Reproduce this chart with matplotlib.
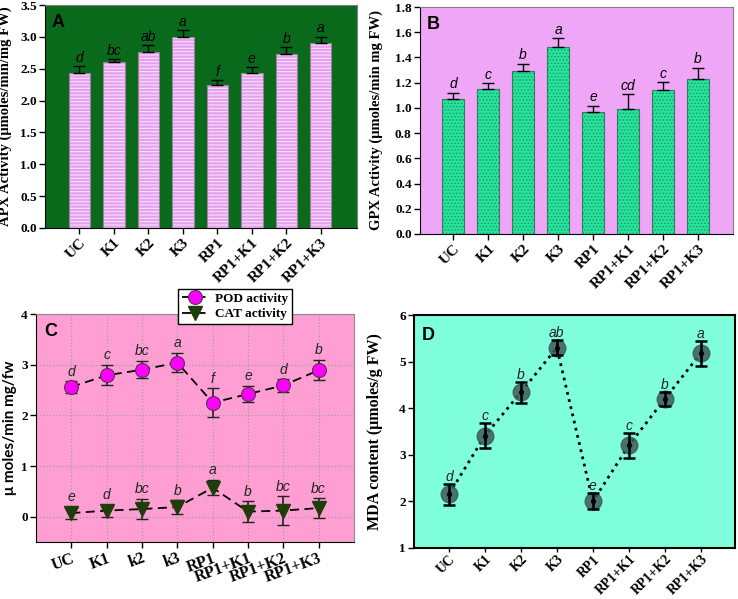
import matplotlib
matplotlib.use("Agg")
import matplotlib.pyplot as plt
import numpy as np

cats = ['UC', 'K1', 'K2', 'K3', 'RP1', 'RP1+K1', 'RP1+K2', 'RP1+K3']
cats_c = ['UC', 'K1', 'k2', 'k3', 'RP1', 'RP1+K1', 'RP1+K2', 'RP1+K3']

apx = [2.44, 2.60, 2.77, 2.99, 2.24, 2.43, 2.73, 2.91]
apx_err = [0.10, 0.05, 0.10, 0.11, 0.08, 0.09, 0.11, 0.09]
apx_letters = ['d', 'bc', 'ab', 'a', 'f', 'e', 'b', 'a']

gpx = [1.067, 1.152, 1.29, 1.48, 0.968, 0.992, 1.144, 1.232]
gpx_err = [0.055, 0.045, 0.06, 0.072, 0.05, 0.115, 0.06, 0.088]
gpx_letters = ['d', 'c', 'b', 'a', 'e', 'cd', 'c', 'b']

pod = [2.56, 2.79, 2.90, 3.04, 2.25, 2.42, 2.59, 2.89]
pod_err = [0.11, 0.20, 0.17, 0.19, 0.28, 0.16, 0.12, 0.20]
pod_letters = ['d', 'c', 'bc', 'a', 'f', 'e', 'd', 'b']

cat = [0.07, 0.12, 0.15, 0.19, 0.57, 0.10, 0.12, 0.17]
cat_err = [0.12, 0.12, 0.20, 0.13, 0.15, 0.20, 0.28, 0.19]
cat_letters = ['e', 'd', 'bc', 'b', 'a', 'b', 'bc', 'bc']

mda = [2.15, 3.41, 4.34, 5.30, 2.00, 3.20, 4.20, 5.18]
mda_err = [0.22, 0.27, 0.22, 0.16, 0.17, 0.27, 0.15, 0.27]
mda_letters = ['d', 'c', 'b', 'ab', 'e', 'c', 'b', 'a']

SERIF = 'Liberation Serif'
SANS = 'Liberation Sans'
plt.rcParams['hatch.linewidth'] = 0.7

fig = plt.figure(figsize=(7.38, 5.99), dpi=100)
W, H = 738, 599


def add_ax(l, t, r, b):
    return fig.add_axes([l / W, 1 - b / H, (r - l) / W, (b - t) / H])


def style_ticks(ax, ylabel, labx, rot=45, xt=cats, ylsize=10.5, xtsize=11, ylfam=SERIF, xpad=2, xlen=4):
    ax.set_xticks(range(len(xt)))
    ax.set_xticklabels(xt, rotation=rot, ha='right', rotation_mode='anchor',
                       fontfamily=SERIF, fontweight='bold', fontsize=xtsize)
    for lab in ax.get_yticklabels():
        lab.set_fontfamily(SERIF)
        lab.set_fontweight('bold')
        lab.set_fontsize(9.5)
    ax.tick_params(direction='out', length=4, width=1, pad=2)
    ax.tick_params(axis='x', pad=xpad, length=xlen)
    ax.set_ylabel(ylabel, fontfamily=ylfam, fontweight='bold', fontsize=ylsize)
    ax.yaxis.set_label_coords(labx, 0.5)


x = np.arange(len(cats))

# Panel A
axA = add_ax(45, 5, 357, 228)
axA.set_facecolor('#086a1a')
axA.bar(x, apx, width=0.62, color='#e6a2ef', edgecolor='#fbe8ff', hatch='-----', linewidth=0, zorder=2)
axA.bar(x, apx, width=0.62, color='none', edgecolor='#9a7fa0', linewidth=0.8, zorder=3)
axA.errorbar(x, apx, yerr=[np.zeros(8), apx_err], fmt='none', ecolor='black', capsize=4, elinewidth=1, zorder=4)
for xi, v, e, s in zip(x, apx, apx_err, apx_letters):
    axA.annotate(s, (xi, v + e), xytext=(0, 1), textcoords='offset points', ha='center', va='bottom',
                 fontsize=10, style='italic', fontfamily=SANS, color='black')
axA.set_xlim(-1, 8.05)
axA.set_ylim(0, 3.5)
axA.set_yticks(np.arange(0, 3.51, 0.5))
axA.set_yticklabels([f'{v:.1f}' for v in np.arange(0, 3.51, 0.5)])
style_ticks(axA, 'APX Activity (μmoles/min/mg FW)', -0.105)
axA.text(0.02, 0.96, 'A', transform=axA.transAxes, fontsize=13, fontweight='bold', fontfamily=SANS, va='top')
for sp in axA.spines.values():
    sp.set_color('#7f7f7f')
axA.spines['left'].set_color('black')
axA.spines['bottom'].set_color('black')

# Panel B
axB = add_ax(420, 7, 733, 234)
axB.set_facecolor('#f0a6f7')
axB.bar(x, gpx, width=0.62, color='#27e39c', edgecolor='#1a9e6c', hatch='.....', linewidth=0, zorder=2)
axB.bar(x, gpx, width=0.62, color='none', edgecolor='#2f7f5f', linewidth=0.8, zorder=3)
axB.errorbar(x, gpx, yerr=[np.zeros(8), gpx_err], fmt='none', ecolor='black', capsize=4, elinewidth=1, zorder=4)
for xi, v, e, s in zip(x, gpx, gpx_err, gpx_letters):
    axB.annotate(s, (xi, v + e), xytext=(0, 1), textcoords='offset points', ha='center', va='bottom',
                 fontsize=10, style='italic', fontfamily=SANS, color='black')
axB.set_xlim(-0.95, 8.0)
axB.set_ylim(0, 1.8)
axB.set_yticks(np.arange(0, 1.81, 0.2))
axB.set_yticklabels([f'{v:.1f}' for v in np.arange(0, 1.81, 0.2)])
style_ticks(axB, 'GPX Activity (μmoles/min mg FW)', -0.118)
axB.text(0.02, 0.96, 'B', transform=axB.transAxes, fontsize=13, fontweight='bold', fontfamily=SANS, va='top')
for sp in axB.spines.values():
    sp.set_color('#7f7f7f')
axB.spines['left'].set_color('black')
axB.spines['bottom'].set_color('black')

# Panel C
axC = add_ax(36, 314, 354, 542)
axC.set_facecolor('#ff9ed3')
axC.grid(True, color='#a0a0a0', linestyle=':', linewidth=0.9, zorder=0)
axC.set_axisbelow(True)
axC.errorbar(x, pod, yerr=pod_err, fmt='none', ecolor='#222222', capsize=4, elinewidth=1.2, zorder=3)
axC.plot(x, pod, '--', color='black', lw=1.3, marker='o', ms=10, mfc='#ff00ff', mec='#553355', mew=0.8,
         dashes=(5, 3), zorder=4, label='POD activity')
axC.errorbar(x, cat, yerr=cat_err, fmt='none', ecolor='#222222', capsize=4, elinewidth=1.2, zorder=3)
axC.plot(x, cat, '--', color='black', lw=1.3, marker='v', ms=10, mfc='#1e3d08', mec='#1e3d08',
         dashes=(5, 3), zorder=4, label='CAT activity')
for xi, v, e, s in zip(x, pod, pod_err, pod_letters):
    axC.annotate(s, (xi, v + e), xytext=(0, 2), textcoords='offset points', ha='center', va='bottom',
                 fontsize=10, style='italic', fontfamily=SANS, color='#222222')
for xi, v, e, s in zip(x, cat, cat_err, cat_letters):
    axC.annotate(s, (xi, v + e), xytext=(0, 2), textcoords='offset points', ha='center', va='bottom',
                 fontsize=10, style='italic', fontfamily=SANS, color='#222222')
axC.set_xlim(-1, 8)
axC.set_ylim(-0.5, 4)
axC.set_yticks([0, 1, 2, 3, 4])
axC.set_yticklabels(['0', '1', '2', '3', '4'])
style_ticks(axC, 'μ moles/min mg/fw', -0.06, rot=20, xt=cats_c, ylsize=11, xtsize=11.5, ylfam='Lato')
axC.text(0.025, 0.96, 'C', transform=axC.transAxes, fontsize=13, fontweight='bold', fontfamily=SANS, va='top')
for sp in ['top', 'right']:
    axC.spines[sp].set_color('#8a8a8a')
leg = axC.legend(loc='upper left', bbox_to_anchor=(0.426, 1.14), frameon=True, fancybox=False,
                 edgecolor='black', framealpha=1, handlelength=1.9, handletextpad=0.6,
                 borderpad=0.3, labelspacing=0.25,
                 prop={'family': SERIF, 'weight': 'bold', 'size': 9.5})
leg.get_frame().set_linewidth(1)

# Panel D
axD = add_ax(414, 315, 735, 548)
axD.set_facecolor('#80ffdc')
axD.plot(x, mda, ':', color='black', lw=2, zorder=2)
axD.plot(x, mda, 'o', ms=12, mfc='#3f5a58', mec='#3f5a58', alpha=0.85, zorder=3)
axD.errorbar(x, mda, yerr=mda_err, fmt='d', ms=4, mfc='black', mec='black', ecolor='black',
             capsize=4, elinewidth=1.8, capthick=1.8, zorder=4)
for xi, v, e, s in zip(x, mda, mda_err, mda_letters):
    axD.annotate(s, (xi, v + e), xytext=(0, 0), textcoords='offset points', ha='center', va='bottom',
                 fontsize=10, style='italic', fontfamily=SANS, color='#222222')
axD.set_xlim(-0.97, 7.95)
axD.set_ylim(1, 6)
axD.set_yticks([1, 2, 3, 4, 5, 6])
axD.set_yticklabels(['1', '2', '3', '4', '5', '6'])
style_ticks(axD, 'MDA content (μmoles/g FW)', -0.097, ylsize=11.5, xtsize=9.8, xpad=0.5, xlen=3)
axD.text(0.025, 0.95, 'D', transform=axD.transAxes, fontsize=13, fontweight='bold', fontfamily=SANS, va='top')
for sp in axD.spines.values():
    sp.set_linewidth(1.5)

fig.savefig('out.png', dpi=100)
